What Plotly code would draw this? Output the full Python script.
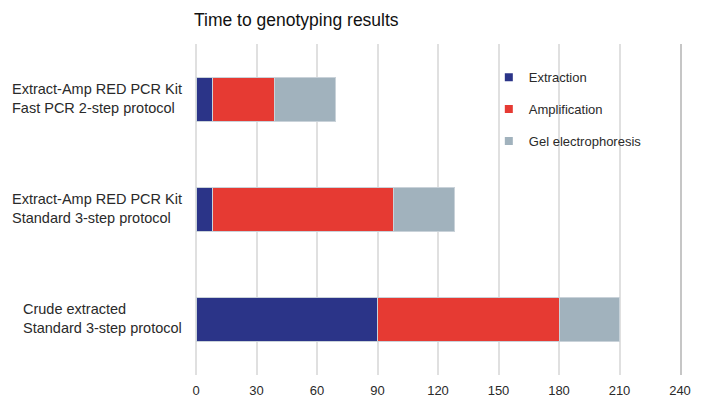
import plotly.graph_objects as go

categories = [
    "Extract-Amp RED PCR Kit\nFast PCR 2-step protocol",
    "Extract-Amp RED PCR Kit\nStandard 3-step protocol",
    "Crude extracted\nStandard 3-step protocol",
]
series_names = ["Extraction", "Amplification", "Gel electrophoresis"]
extraction = [8, 8, 90]
amplification = [31, 90, 90]
gel = [30, 30, 30]
x_ticks = [0, 30, 60, 90, 120, 150, 180, 210, 240]
title_text = "Time to genotyping results"

colors = ["#2b3488", "#e63a33", "#a1b2bd"]
values = [extraction, amplification, gel]
FONT = "Liberation Sans"
TXT = "#2a2a2a"

W, H = 697, 389  # page body has an 8px margin

fig = go.Figure()
for name, vals, col in zip(series_names, values, colors):
    fig.add_trace(go.Bar(
        y=list(range(len(categories))), x=vals, orientation="h", name=name,
        marker=dict(color=col, line=dict(color="#c9d2d9", width=1)),
        width=0.4, showlegend=False, legendgroup=name,
    ))
for name, col in zip(series_names, colors):
    fig.add_trace(go.Scatter(
        x=[None], y=[None], mode="markers", name=name, legendgroup=name,
        marker=dict(symbol="square", size=8, color=col),
    ))

for i, cat in enumerate(categories):
    fig.add_annotation(
        x=0, xref="paper", y=i, yref="y", text=cat.replace("\n", "<br>"),
        xanchor="right", yanchor="middle", align="left", xshift=-12, yshift=1,
        showarrow=False, font=dict(family=FONT, size=14.5, color=TXT),
    )

fig.update_layout(
    barmode="stack",
    width=W, height=H,
    margin=dict(l=188, r=25, t=36, b=22, autoexpand=False),
    paper_bgcolor="white", plot_bgcolor="white",
    title=dict(text=title_text, x=186 / W, xanchor="left", xref="container",
               y=1 - 12 / H, yanchor="middle", yref="container",
               font=dict(family=FONT, size=17.5, color="#111")),
    legend=dict(x=0.605, xanchor="left", y=0.945, yanchor="top",
                font=dict(family=FONT, size=13, color=TXT),
                tracegroupgap=12, traceorder="grouped", bgcolor="rgba(0,0,0,0)"),
    xaxis=dict(range=[0, 240], tickvals=x_ticks, ticktext=[str(t) for t in x_ticks],
               showgrid=True, gridcolor="#e0e0e0", gridwidth=1.5,
               zeroline=True, zerolinecolor="#e0e0e0", zerolinewidth=1.5,
               showline=False, ticks="", ticklabelstandoff=6, automargin=False,
               tickfont=dict(family=FONT, size=13, color=TXT)),
    yaxis=dict(range=[2.5, -0.5], showticklabels=False, showgrid=False,
               zeroline=False, side="right", showline=True, automargin=False,
               linecolor="#c6c6c6", linewidth=2),
)

fig.write_html("out.html")
